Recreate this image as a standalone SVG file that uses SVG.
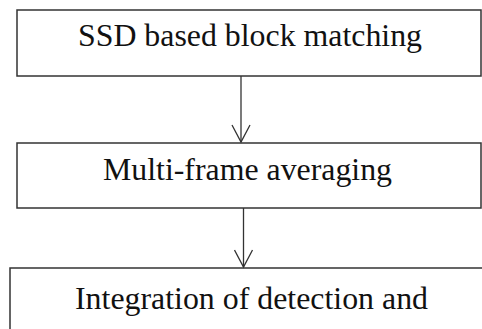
<svg xmlns="http://www.w3.org/2000/svg" width="482" height="329" viewBox="0 0 482 329">
<defs>
<style>
.box{fill:#fff;stroke:#333;stroke-width:1.5}
.lbl{font-family:"Liberation Serif","Times New Roman",serif;font-size:31px;fill:#111}
.conn{stroke:#333;stroke-width:1.3;fill:none}
</style>
<marker id="arr" viewBox="0 0 20 20" refX="18" refY="10" markerWidth="20" markerHeight="20" markerUnits="userSpaceOnUse" orient="auto">
<path d="M1,1 L18,10 L1,19" fill="none" stroke="#333" stroke-width="1.3"/>
</marker>
</defs>
<rect width="482" height="329" fill="#fff"/>
<g id="node1">
<rect class="box" x="17" y="10" width="464" height="66"/>
<text class="lbl" x="78" y="46" textLength="344" lengthAdjust="spacingAndGlyphs">SSD based block matching</text>
</g>
<g id="node2">
<rect class="box" x="17" y="143" width="464" height="65"/>
<text class="lbl" x="103" y="180" textLength="289" lengthAdjust="spacingAndGlyphs">Multi-frame averaging</text>
</g>
<g id="node3">
<rect class="box" x="10" y="268" width="490" height="80"/>
<text class="lbl" x="75" y="309" textLength="353" lengthAdjust="spacingAndGlyphs">Integration of detection and</text>
</g>
<g id="connectors">
<line class="conn" x1="241" y1="76" x2="241" y2="142" marker-end="url(#arr)"/>
<line class="conn" x1="243.5" y1="208" x2="243.5" y2="267" marker-end="url(#arr)"/>
</g>
</svg>
